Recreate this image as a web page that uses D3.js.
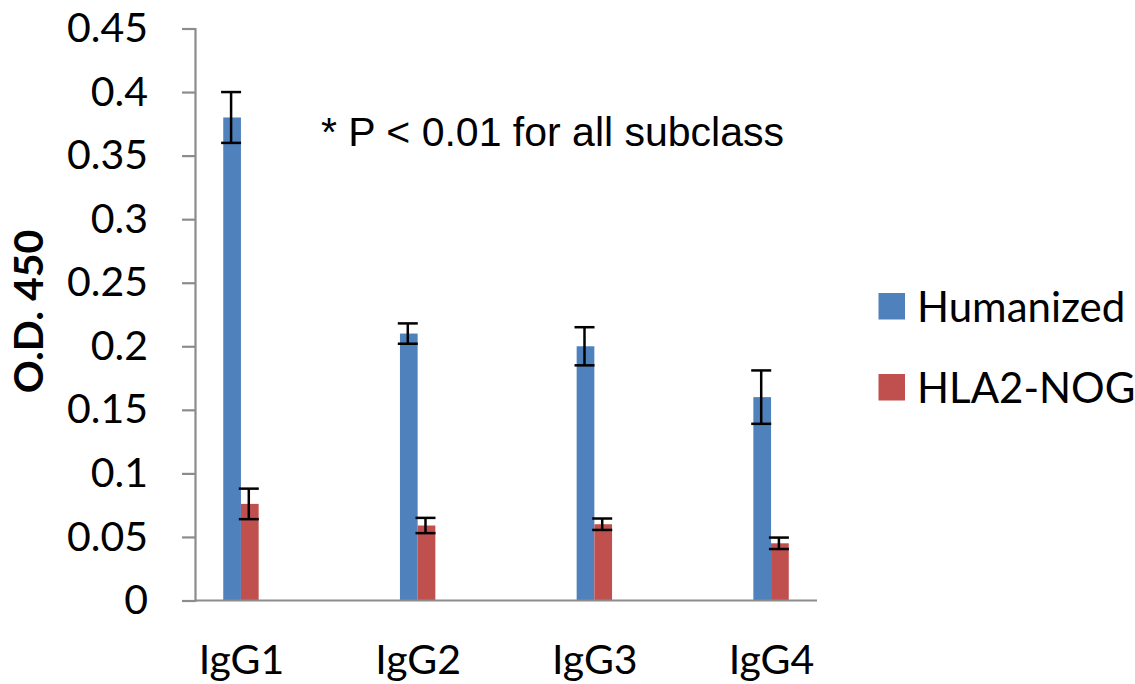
<!DOCTYPE html>
<html>
<head>
<meta charset="utf-8">
<script src="https://cdn.jsdelivr.net/npm/d3@7"></script>
<style>
  html, body { margin: 0; padding: 0; background: #fff; }
  svg { display: block; }
</style>
</head>
<body>
<script>
const categories = ["IgG1", "IgG2", "IgG3", "IgG4"];
const seriesNames = ["Humanized", "HLA2-NOG"];
const humanized = [0.38, 0.21, 0.20, 0.16];
const humanizedErr = [0.020, 0.008, 0.015, 0.021];
const hlaNog = [0.076, 0.059, 0.060, 0.045];
const hlaNogErr = [0.012, 0.006, 0.0045, 0.0045];
const yTicks = [0, 0.05, 0.1, 0.15, 0.2, 0.25, 0.3, 0.35, 0.4, 0.45];
const yTickLabels = ["0", "0.05", "0.1", "0.15", "0.2", "0.25", "0.3", "0.35", "0.4", "0.45"];
const colors = ["#4F81BD", "#C0504D"];

const W = 1135, H = 684;
const svg = d3.select("body").append("svg").attr("width", W).attr("height", H);

const plotLeft = 195, plotRight = 817, plotTop = 28.5, plotBottom = 600.5;
const font = "Lato, 'Open Sans', sans-serif";

const y = d3.scaleLinear().domain([0, 0.45]).range([plotBottom, plotTop]);
const x = d3.scalePoint().domain(categories).range([plotLeft, plotRight]).padding(0.26);
const inner = d3.scaleBand().domain(seriesNames).range([-17.7, 17.7]);

const data = [];
categories.forEach((c, i) => {
  data.push({cat: c, s: seriesNames[0], v: humanized[i], e: humanizedErr[i], col: colors[0]});
  data.push({cat: c, s: seriesNames[1], v: hlaNog[i], e: hlaNogErr[i], col: colors[1]});
});

// bars
svg.append("g").selectAll("rect").data(data).join("rect")
  .attr("x", d => x(d.cat) + inner(d.s))
  .attr("y", d => y(d.v))
  .attr("width", inner.bandwidth())
  .attr("height", d => y(0) - y(d.v))
  .attr("fill", d => d.col);

// y axis
const yAxis = d3.axisLeft(y).tickValues(yTicks)
  .tickFormat((d, i) => yTickLabels[i]).tickSize(13).tickPadding(34);
const gy = svg.append("g").attr("transform", `translate(${plotLeft},0)`).call(yAxis);
gy.select(".domain").attr("stroke", "#8c8c8c").attr("stroke-width", 2.2);
gy.selectAll(".tick line").attr("stroke", "#8c8c8c").attr("stroke-width", 2.2);
gy.selectAll(".tick text").attr("font-family", font).attr("font-size", 41).attr("fill", "#000");

// x axis
const xAxis = d3.axisBottom(x).tickSize(0).tickPadding(44);
const gx = svg.append("g").attr("transform", `translate(0,${plotBottom})`).call(xAxis);
gx.select(".domain").attr("stroke", "#8c8c8c").attr("stroke-width", 2.2)
  .attr("d", `M${plotLeft},0H${plotRight}`);
gx.selectAll(".tick text").attr("font-family", font).attr("font-size", 41).attr("fill", "#000");

// error bars
const eg = svg.append("g").attr("stroke", "#000").attr("stroke-width", 2.5);
data.forEach(d => {
  const cx = x(d.cat) + inner(d.s) + inner.bandwidth() / 2 - 1;
  eg.append("line").attr("x1", cx).attr("x2", cx).attr("y1", y(d.v + d.e)).attr("y2", y(d.v - d.e));
  eg.append("line").attr("x1", cx - 10).attr("x2", cx + 10).attr("y1", y(d.v + d.e)).attr("y2", y(d.v + d.e));
  eg.append("line").attr("x1", cx - 10).attr("x2", cx + 10).attr("y1", y(d.v - d.e)).attr("y2", y(d.v - d.e));
});

// y axis title
svg.append("text")
  .attr("transform", "translate(43,311.5) rotate(-90)")
  .attr("text-anchor", "middle")
  .attr("font-family", font).attr("font-weight", "bold").attr("font-size", 41)
  .text("O.D. 450");

// annotation
svg.append("text")
  .attr("x", 321).attr("y", 146)
  .attr("font-family", "'Liberation Sans', Arial, sans-serif").attr("font-size", 41)
  .attr("fill", "#000")
  .text("* P < 0.01 for all subclass");

// legend
const lg = svg.append("g");
seriesNames.forEach((s, i) => {
  const ty = 293 + i * 81;
  lg.append("rect").attr("x", 878.5).attr("y", ty).attr("width", 26.5).attr("height", 26.5).attr("fill", colors[i]);
  lg.append("text").attr("x", 917).attr("y", ty + 28.5)
    .attr("font-family", font).attr("font-size", 42).attr("fill", "#000").text(s);
});
</script>
</body>
</html>
